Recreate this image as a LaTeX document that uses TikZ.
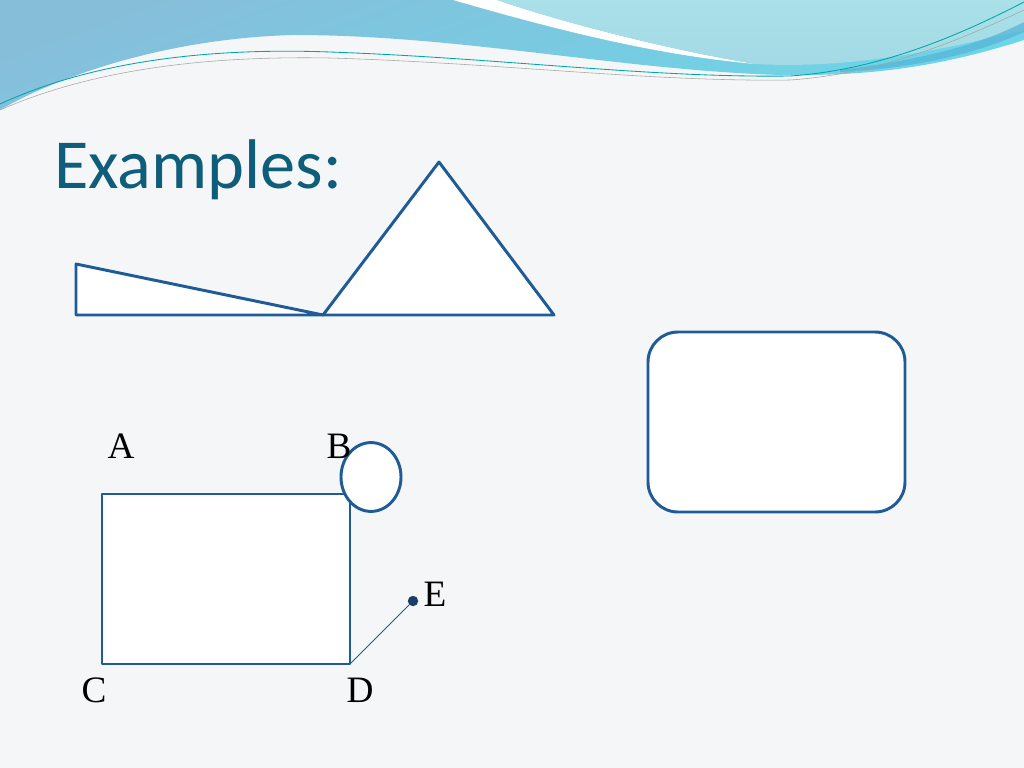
\documentclass[tikz,border=0pt]{standalone}
\usepackage{fontspec}
\setmainfont{Liberation Serif}
\newfontfamily\titlefont{Carlito}
\usetikzlibrary{shapes.geometric}
\definecolor{scheme}{RGB}{31,91,150}
\definecolor{titleblue}{RGB}{14,94,123}
\definecolor{paper}{RGB}{245,246,247}
\definecolor{waveblue}{RGB}{134,190,218}
\definecolor{wavecyan}{RGB}{108,214,232}
\definecolor{lightcyan}{RGB}{170,224,232}
\definecolor{streak}{RGB}{84,178,214}
\definecolor{dotblue}{RGB}{24,62,106}

\tikzset{
  shape line/.style={draw=scheme,line width=2.1pt,fill=white,line join=round},
  letter/.style={font=\fontsize{26.5}{28}\selectfont,inner sep=0pt}
}

\begin{document}
\begin{tikzpicture}[x=0.025cm,y=-0.025cm]
	\useasboundingbox (0,0) rectangle (1024,768);
	\fill[paper] (0,0) rectangle (1024,768);

	% wave band at the top
	\shade[top color=waveblue,bottom color=wavecyan,shading angle=20] (0,0) -- (1024,0) -- (1024,40)
		.. controls (930,70) and (860,76) .. (780,75)
		.. controls (620,70) and (460,35) .. (294,35)
		.. controls (170,38) and (60,75) .. (0,110) -- cycle;
	\fill[white] (453,0) .. controls (540,25) and (650,55) .. (756,64)
		.. controls (680,52) and (570,25) .. (497,0) -- cycle;
	\shade[top color=lightcyan,bottom color=lightcyan!80!waveblue] (497,0) .. controls (570,25) and (680,52) .. (756,64)
		.. controls (860,70) and (960,45) .. (1024,30) -- (1024,0) -- cycle;
	\fill[streak,opacity=0.7] (840,70) .. controls (920,60) and (980,45) .. (1024,22) -- (1024,32)
		.. controls (980,52) and (920,68) .. (840,72) -- cycle;
	\draw[teal!70!cyan,line width=0.6pt] (0,104) .. controls (100,58) and (220,48) .. (330,52)
		.. controls (500,58) and (650,78) .. (790,76) .. controls (880,70) and (960,35) .. (1024,2);
	\draw[gray!70,line width=0.4pt] (0,110) .. controls (100,66) and (220,56) .. (330,58)
		.. controls (500,63) and (650,82) .. (790,80) .. controls (880,74) and (960,40) .. (1024,10);

	% title
	\node[anchor=base west,text=titleblue,inner sep=0pt] (title) at (54,188) {\titlefont\fontsize{50}{58}\selectfont Examples:};

	% triangles
	\coordinate (t1) at (76,264);
	\coordinate (t2) at (76,315);
	\coordinate (t3) at (323,315);
	\coordinate (t4) at (439,162);
	\coordinate (t5) at (554,315);
	\draw[shape line] (t1) -- (t2) -- (t3) -- cycle;
	\draw[shape line] (t3) -- (t4) -- (t5) -- cycle;

	% rounded box
	\draw[shape line,rounded corners=0.75cm] (648,332) rectangle (905,512);

	% rectangle ABCD
	\coordinate (a) at (102,494);
	\coordinate (b) at (350,494);
	\coordinate (c) at (102,664);
	\coordinate (d) at (350,664);
	\draw[shape line] (a) -- (b) -- (d) -- (c) -- cycle;
	\node[shape line,ellipse,minimum width=1.5cm,minimum height=1.72cm,inner sep=0pt] (circ) at (371,477) {};

	\node[circle,fill=dotblue,inner sep=0pt,minimum size=0.26cm] (e) at (413,601) {};
	\draw[scheme,line width=0.6pt] (d) -- (e);

	\node[letter] (la) at (121,446) {A};
	\node[letter] (lb) at (339,446) {B};
	\node[letter] (lc) at (94,690) {C};
	\node[letter] (ld) at (360,690) {D};
	\node[letter] (le) at (435,594) {E};
\end{tikzpicture}
\end{document}
